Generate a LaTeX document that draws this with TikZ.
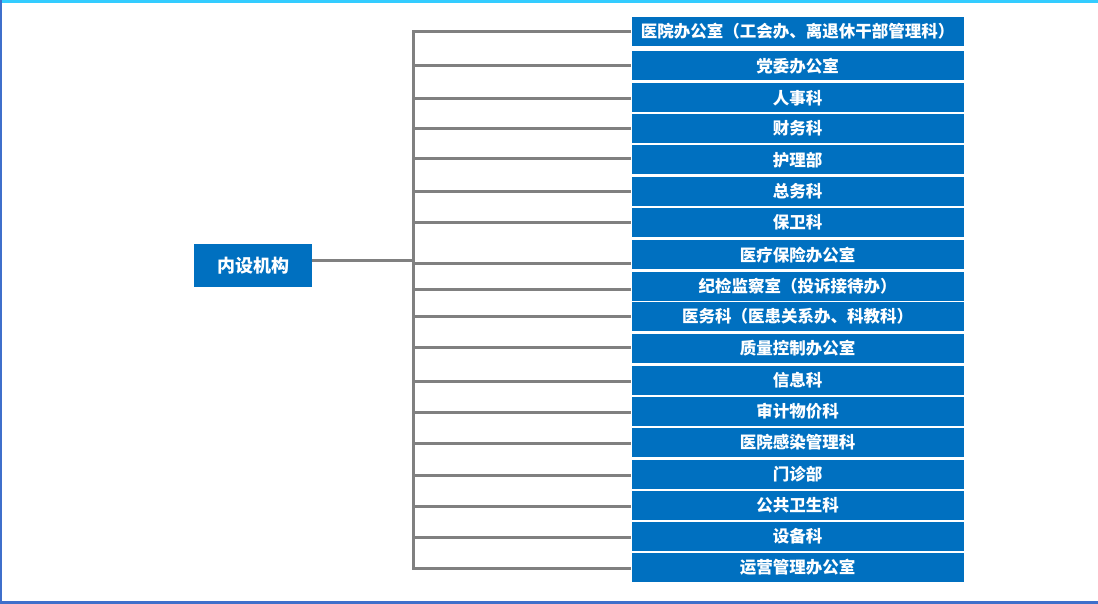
\documentclass[tikz,border=0pt]{standalone}
\usepackage{fontspec}
\newfontfamily\cjk{Noto Sans CJK SC}
\definecolor{boxblue}{HTML}{0070C0}
\definecolor{linegray}{HTML}{808080}
\definecolor{topcyan}{HTML}{33CCFF}
\definecolor{edgeblue}{HTML}{3F6FCB}
\tikzset{
  unit/.style={fill=boxblue, text=white, inner sep=0pt,
    font=\cjk\bfseries\fontsize{16.5}{18}\selectfont,
    minimum width=332, minimum height=29},
  link/.style={draw=linegray, line width=3}
}

\begin{document}
\begin{tikzpicture}[x=1pt,y=-1pt]
  \useasboundingbox (0,0) rectangle (1098,604);
  % frame
  \draw[topcyan, line width=3] (0,1.5) -- (1098,1.5);
  \draw[edgeblue, line width=2] (1,0) -- (1,604);
  \draw[edgeblue, line width=3] (0,602.5) -- (1098,602.5);

  % units: number / box centre / branch height / name
  \foreach \i/\y/\b/\t in {1/31.5/32/医院办公室（工会办、离退休干部管理科）,
      2/66/66/党委办公室, 3/98/99/人事科, 4/128.5/129/财务科,
      5/160/159/护理部, 6/191.5/192/总务科, 7/222.5/223/保卫科,
      8/255/264/医疗保险办公室, 9/286.5/289/纪检监察室（投诉接待办）,
      10/316.5/316/医务科（医患关系办、科教科）, 11/348.5/347/质量控制办公室,
      12/380.5/381/信息科, 13/411/412/审计物价科, 14/442/443/医院感染管理科,
      15/474/475/门诊部, 16/505/506/公共卫生科, 17/536/537/设备科,
      18/567/568/运营管理办公室} {
    \node[unit] (u-\i) at (797.5,\y) {\t};
    \coordinate (j-\i) at (413,\b);
  }

  \node[fill=boxblue, text=white, inner sep=0pt,
    font=\cjk\bfseries\fontsize{18}{20}\selectfont,
    minimum width=118, minimum height=43] (root) at (253,265.5) {内设机构};
  \coordinate (hub) at (413,261);

  \draw[link] (u-1.west |- j-1) -- (j-1) -- (j-18) -- (u-18.west |- j-18);
  \foreach \i in {2,...,17} {
    \draw[link] (j-\i) -- (u-\i.west |- j-\i);
  }
  \draw[link] (root.east |- hub) -- (hub);
\end{tikzpicture}
\end{document}
